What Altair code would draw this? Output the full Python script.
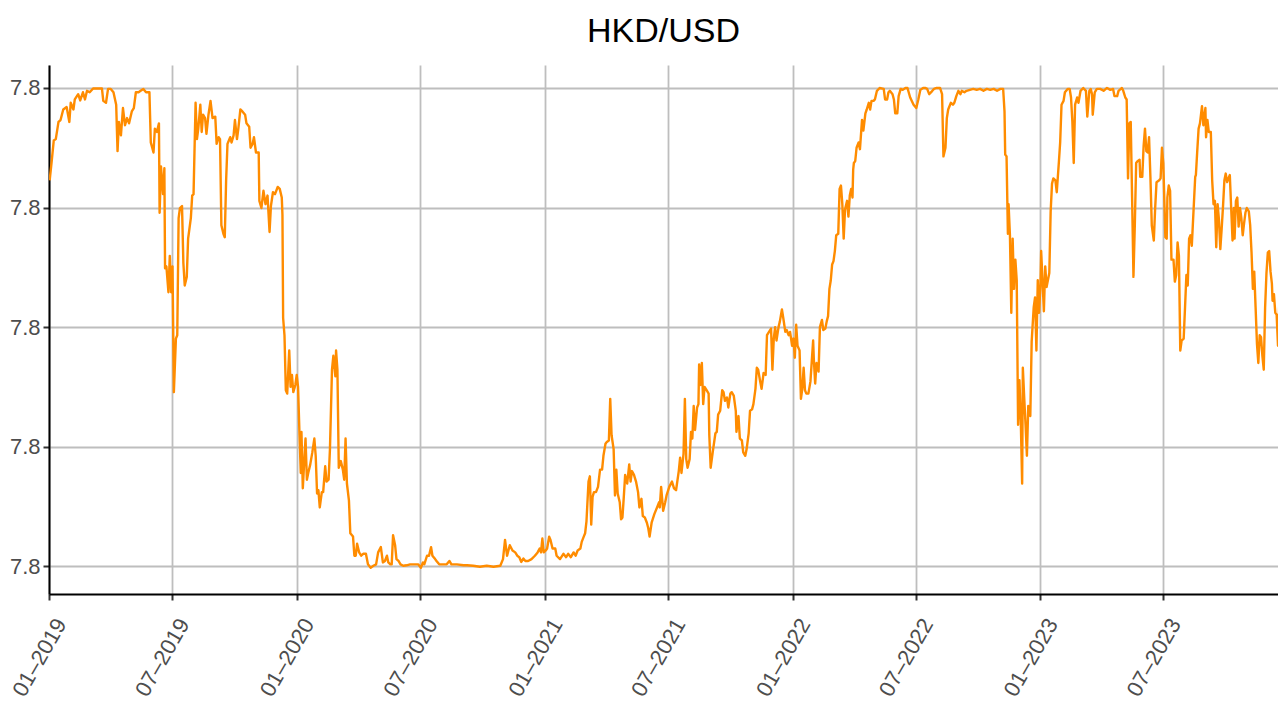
import altair as alt
import pandas as pd

# days since 2019-01-01
days = [
    1, 4, 7, 10, 14, 17, 21, 26, 30, 32, 36, 38, 43, 46, 50, 53, 56, 60, 65, 73, 78, 80, 84, 87, 91, 95, 99,
    101, 103, 106, 109, 112, 115, 118, 122, 125, 128, 132, 135, 139, 143, 148, 150, 154, 156, 159, 162, 163,
    165, 168, 170, 171, 173, 176, 178, 180, 182, 184, 187, 189, 191, 193, 196, 198, 200, 203, 205, 209, 211,
    213, 216, 218, 220, 223, 225, 227, 230, 232, 235, 238, 241, 245, 247, 250, 252, 254, 257, 259, 261, 263,
    267, 269, 272, 274, 277, 279, 282, 285, 289, 291, 295, 297, 300, 302, 305, 309, 310,
    313, 316, 319, 322, 325, 327, 330, 333, 337, 340, 343, 344, 345, 347, 349, 351, 354, 356, 358, 360, 363,
    365, 367, 369, 371, 372, 374, 376, 378, 380, 382, 385, 388, 391, 393, 395, 397, 399, 402, 404, 407, 409,
    412, 414, 417, 419, 422, 423, 425, 427, 430, 433, 435, 437, 439, 442, 444, 448, 450, 452, 454, 457, 460,
    463, 467, 470, 474, 478, 482, 485, 489, 492, 495, 498, 500, 503, 505, 507, 510, 512, 515, 518, 522, 527,
    532, 539, 544, 548, 551, 553, 557, 560, 563, 565, 569, 571, 575, 581, 586, 590, 593, 601, 611,
    616, 625, 635, 645, 655, 665, 669, 672, 675, 677, 679, 683, 687, 690, 693, 696, 699, 702, 706, 711, 716,
    720, 723, 725, 727, 729, 732, 734, 737, 739, 742, 746, 748, 753, 758, 762, 765, 769, 773, 776, 779, 783,
    785, 788, 790, 792, 795, 797, 799, 801, 803, 806, 809, 812, 815, 817, 820, 822, 825, 827, 829, 832, 834,
    836, 838, 841, 843, 845, 847, 849, 852, 855, 857, 859, 862, 865, 868, 870, 873, 875, 878, 881, 883, 885,
    888, 892, 896, 899, 900, 902, 905, 908, 910, 914, 918, 921, 924, 928, 930,
    932, 935, 937, 939, 941, 944, 946, 948, 950, 952, 955, 957, 958, 960, 962, 964, 966, 969, 972, 973, 975,
    978, 982, 984, 986, 989, 992, 994, 996, 999, 1001, 1004, 1006, 1009, 1012, 1013, 1016, 1018, 1021, 1023,
    1026, 1028, 1031, 1033, 1036, 1038, 1041, 1043, 1045, 1048, 1050, 1053, 1056, 1058, 1061, 1064, 1066,
    1068, 1070, 1072, 1075, 1077, 1080, 1082, 1085, 1087, 1090, 1092, 1095, 1097, 1099, 1101, 1103, 1106,
    1108, 1110, 1112, 1114, 1116, 1119, 1122, 1124, 1126, 1127, 1129, 1131, 1134, 1136, 1139, 1141, 1144,
    1146, 1148, 1150, 1152, 1154, 1156, 1158, 1160, 1163, 1165, 1167, 1169, 1171, 1173, 1176, 1178, 1180,
    1182, 1184, 1185, 1186, 1188, 1190, 1193, 1195, 1198, 1200, 1203, 1205, 1208, 1210, 1212, 1215, 1217,
    1220, 1224,
    1230, 1232, 1235, 1237, 1239, 1243, 1245, 1247, 1250, 1252, 1255, 1258, 1262, 1265, 1269, 1274, 1278,
    1281, 1284, 1288, 1291, 1294, 1297, 1301, 1304, 1308, 1313, 1316, 1318, 1321, 1323, 1325, 1329, 1332,
    1334, 1337, 1340, 1343, 1345, 1349, 1352, 1357, 1362, 1367, 1372, 1377, 1382, 1387, 1392, 1397, 1402,
    1406, 1408, 1409, 1411, 1413, 1414, 1416, 1418, 1420, 1422, 1424, 1426, 1428, 1430, 1432, 1434, 1435,
    1437, 1439, 1441, 1443, 1446, 1448, 1451, 1453, 1455, 1457, 1459, 1461, 1462, 1464, 1466, 1468, 1470,
    1474, 1476, 1478, 1480, 1483, 1485, 1488, 1490, 1492, 1495, 1497, 1501, 1504, 1506, 1508, 1510, 1512,
    1515, 1517, 1520, 1524, 1528, 1530, 1533, 1535,
    1537, 1538, 1541, 1544, 1549, 1554, 1559, 1564, 1568, 1570, 1574, 1576, 1581, 1583, 1586, 1588, 1590,
    1592, 1594, 1596, 1598, 1600, 1602, 1604, 1607, 1608, 1611, 1613, 1615, 1617, 1619, 1621, 1623, 1625,
    1628, 1630, 1632, 1636, 1638, 1640, 1642, 1645, 1647, 1648, 1650, 1652, 1654, 1657, 1659, 1661, 1663,
    1665, 1667, 1669, 1672, 1674, 1676, 1678, 1680, 1682, 1684, 1687, 1689, 1690, 1692, 1694, 1696, 1699,
    1701, 1704, 1705, 1707, 1709, 1712, 1714, 1716, 1718, 1720, 1722, 1724, 1726, 1728, 1730, 1732, 1734,
    1736, 1738, 1740, 1742, 1744, 1746, 1747, 1749, 1751, 1753, 1755, 1757, 1759, 1761, 1763, 1765, 1768,
    1770, 1772, 1774, 1776, 1778, 1780, 1782, 1784, 1786, 1788, 1790, 1792, 1794, 1796, 1798, 1800, 1802,
    1803, 1805, 1807, 1809, 1811, 1813, 1815, 1817, 1819, 1821,
]

rates = [
    7.8307, 7.8347, 7.8390, 7.8393, 7.8429, 7.8433, 7.8455, 7.8460, 7.8429, 7.8469, 7.8455, 7.8476, 7.8487,
    7.8474, 7.8491, 7.8476, 7.8494, 7.8491, 7.8499, 7.8499, 7.8499, 7.8473, 7.8469, 7.8498, 7.8498, 7.8491,
    7.8465, 7.8368, 7.8429, 7.8401, 7.8458, 7.8422, 7.8437, 7.8426, 7.8451, 7.8458, 7.8491, 7.8491, 7.8494,
    7.8498, 7.8491, 7.8491, 7.8386, 7.8365, 7.8415, 7.8408, 7.8426, 7.8239, 7.8336, 7.8278, 7.8332, 7.8123,
    7.8127, 7.8073, 7.8149, 7.8073, 7.8127, 7.7864, 7.7976, 7.7983, 7.8228, 7.8249, 7.8253, 7.8134, 7.8087,
    7.8105, 7.8185, 7.8228, 7.8275, 7.8278, 7.8469, 7.8393, 7.8415, 7.8465, 7.8408, 7.8444, 7.8437, 7.8404,
    7.8444, 7.8473, 7.8437, 7.8440, 7.8383, 7.8397, 7.8393, 7.8213, 7.8195, 7.8188, 7.8307, 7.8383, 7.8397,
    7.8386, 7.8401, 7.8433, 7.8393, 7.8415, 7.8455, 7.8451, 7.8444, 7.8426, 7.8419, 7.8375, 7.8383, 7.8397,
    7.8365, 7.8365, 7.8264,
    7.8249, 7.8285, 7.8257, 7.8275, 7.8199, 7.8253, 7.8282, 7.8278, 7.8293, 7.8289, 7.8271, 7.8235, 7.8019,
    7.7983, 7.7868, 7.7861, 7.7951, 7.7875, 7.7900, 7.7864, 7.7879, 7.7900, 7.7875, 7.7781, 7.7695, 7.7781,
    7.7663, 7.7717, 7.7767, 7.7681, 7.7695, 7.7713, 7.7738, 7.7767, 7.7731, 7.7652, 7.7659, 7.7623, 7.7655,
    7.7655, 7.7709, 7.7677, 7.7681, 7.7745, 7.7911, 7.7940, 7.7897, 7.7951, 7.7911, 7.7706, 7.7720, 7.7702,
    7.7681, 7.7767, 7.7673, 7.7637, 7.7569, 7.7562, 7.7522, 7.7522, 7.7547, 7.7529, 7.7522, 7.7526, 7.7526,
    7.7504, 7.7497, 7.7501, 7.7504, 7.7529, 7.7540, 7.7508, 7.7511, 7.7522, 7.7508, 7.7504, 7.7504, 7.7565,
    7.7544, 7.7515, 7.7511, 7.7504, 7.7501, 7.7502, 7.7504, 7.7504, 7.7504, 7.7497, 7.7508, 7.7504, 7.7522,
    7.7522, 7.7540, 7.7522, 7.7515, 7.7511, 7.7504, 7.7504, 7.7504, 7.7511, 7.7504, 7.7504, 7.7502,
    7.7502, 7.7501, 7.7499, 7.7501, 7.7499, 7.7501, 7.7515, 7.7555, 7.7522, 7.7533, 7.7544, 7.7533, 7.7529,
    7.7522, 7.7519, 7.7509, 7.7516, 7.7511, 7.7511, 7.7515, 7.7522, 7.7529, 7.7537, 7.7529, 7.7558, 7.7529,
    7.7533, 7.7537, 7.7562, 7.7555, 7.7537, 7.7537, 7.7522, 7.7515, 7.7526, 7.7519, 7.7526, 7.7519, 7.7529,
    7.7522, 7.7533, 7.7537, 7.7551, 7.7562, 7.7569, 7.7594, 7.7677, 7.7688, 7.7587, 7.7645, 7.7655, 7.7655,
    7.7666, 7.7702, 7.7702, 7.7731, 7.7756, 7.7760, 7.7763, 7.7850, 7.7774, 7.7745, 7.7648, 7.7702, 7.7652,
    7.7634, 7.7598, 7.7602, 7.7645, 7.7691, 7.7673, 7.7713, 7.7677, 7.7699, 7.7691, 7.7677, 7.7655, 7.7623,
    7.7641, 7.7605, 7.7602, 7.7591, 7.7580, 7.7562, 7.7591, 7.7609, 7.7623, 7.7634, 7.7623, 7.7666, 7.7616,
    7.7634, 7.7648, 7.7666, 7.7677, 7.7663, 7.7659, 7.7699, 7.7727,
    7.7695, 7.7735, 7.7850, 7.7724, 7.7706, 7.7724, 7.7781, 7.7767, 7.7835, 7.7785, 7.7832, 7.7839, 7.7922,
    7.7879, 7.7925, 7.7839, 7.7875, 7.7868, 7.7861, 7.7774, 7.7706, 7.7738, 7.7778, 7.7781, 7.7817, 7.7825,
    7.7868, 7.7864, 7.7846, 7.7853, 7.7832, 7.7861, 7.7864, 7.7857, 7.7825, 7.7781, 7.7814, 7.7767, 7.7763,
    7.7738, 7.7731, 7.7745, 7.7778, 7.7825, 7.7828, 7.7839, 7.7871, 7.7915, 7.7911, 7.7886, 7.7871, 7.7904,
    7.7900, 7.7983, 7.7990, 7.7997, 7.7911, 7.7976, 7.8000, 7.7972, 7.8000, 7.8012, 7.8037, 7.8019, 7.7990,
    7.7994, 7.7983, 7.7990, 7.7961, 7.7976, 7.7936, 7.8005, 7.7961, 7.7951, 7.7850, 7.7871, 7.7915, 7.7868,
    7.7861, 7.7861, 7.7886, 7.7929, 7.7972, 7.7933, 7.7882, 7.7925, 7.7907, 7.8000, 7.8015, 7.7994, 7.7997,
    7.8012, 7.8023, 7.8080, 7.8098, 7.8131, 7.8138, 7.8159, 7.8192, 7.8195, 7.8289, 7.8296, 7.8257, 7.8185,
    7.8246, 7.8264, 7.8231, 7.8275, 7.8289, 7.8271, 7.8329, 7.8343, 7.8347, 7.8375, 7.8386, 7.8372, 7.8433,
    7.8411, 7.8447, 7.8455, 7.8469, 7.8455, 7.8473, 7.8473, 7.8476, 7.8494, 7.8500,
    7.8498, 7.8476, 7.8476, 7.8491, 7.8494, 7.8487, 7.8476, 7.8447, 7.8447, 7.8483, 7.8498, 7.8496, 7.8500,
    7.8500, 7.8480, 7.8465, 7.8458, 7.8476, 7.8496, 7.8500, 7.8500, 7.8498, 7.8487, 7.8493, 7.8498, 7.8500,
    7.8500, 7.8487, 7.8357, 7.8375, 7.8437, 7.8455, 7.8469, 7.8465, 7.8469, 7.8483, 7.8494, 7.8487, 7.8494,
    7.8491, 7.8494, 7.8496, 7.8498, 7.8496, 7.8498, 7.8494, 7.8498, 7.8496, 7.8498, 7.8494, 7.8498, 7.8498,
    7.8451, 7.8361, 7.8357, 7.8195, 7.8257, 7.8192, 7.8030, 7.8185, 7.8080, 7.8141, 7.8098, 7.7796, 7.7889,
    7.7803, 7.7673, 7.7915, 7.7853, 7.7796, 7.7731, 7.7835, 7.7814, 7.7969, 7.8041, 7.8062, 7.7951, 7.8098,
    7.8030, 7.8091, 7.8159, 7.8098, 7.8033, 7.8127, 7.8084, 7.8113, 7.8242, 7.8300, 7.8311, 7.8307, 7.8282,
    7.8343, 7.8386, 7.8465, 7.8473, 7.8491, 7.8498, 7.8498, 7.8480, 7.8429, 7.8343, 7.8465, 7.8480, 7.8469,
    7.8494, 7.8500, 7.8494, 7.8440, 7.8494, 7.8498,
    7.8487, 7.8444, 7.8491, 7.8498, 7.8498, 7.8494, 7.8500, 7.8496, 7.8498, 7.8483, 7.8483, 7.8494, 7.8500,
    7.8494, 7.8480, 7.8476, 7.8311, 7.8426, 7.8429, 7.8271, 7.8105, 7.8213, 7.8343, 7.8347, 7.8350, 7.8314,
    7.8314, 7.8379, 7.8415, 7.8368, 7.8365, 7.8397, 7.8314, 7.8213, 7.8181, 7.8249, 7.8303, 7.8307, 7.8311,
    7.8375, 7.8343, 7.8188, 7.8185, 7.8271, 7.8296, 7.8285, 7.8141, 7.8141, 7.8095, 7.8109, 7.8177, 7.8149,
    7.7951, 7.7972, 7.7976, 7.8041, 7.8109, 7.8087, 7.8185, 7.8192, 7.8170, 7.8257, 7.8314, 7.8318, 7.8368,
    7.8415, 7.8426, 7.8462, 7.8422, 7.8458, 7.8397, 7.8433, 7.8408, 7.8408, 7.8307, 7.8257, 7.8264, 7.8167,
    7.8257, 7.8224, 7.8163, 7.8206, 7.8253, 7.8307, 7.8321, 7.8303, 7.8311, 7.8318, 7.8249, 7.8181, 7.8249,
    7.8185, 7.8264, 7.8271, 7.8210, 7.8249, 7.8228, 7.8192, 7.8217, 7.8239, 7.8249, 7.8242, 7.8213, 7.8156,
    7.8080, 7.8116, 7.8041, 7.7965, 7.7925, 7.7983, 7.7979, 7.7940, 7.7911, 7.8041, 7.8113, 7.8156, 7.8159,
    7.8116, 7.8091, 7.8055, 7.8069, 7.8030, 7.8026, 7.7961, 7.8055, 7.8113, 7.8156, 7.8095, 7.8134,
]

y_ticks = [7.75, 7.775, 7.80, 7.825, 7.85]
x_tick_months = [(2019, 1), (2019, 7), (2020, 1), (2020, 7), (2021, 1), (2021, 7),
                 (2022, 1), (2022, 7), (2023, 1), (2023, 7)]

n = min(len(days), len(rates))
start = pd.Timestamp("2019-01-01")
df = pd.DataFrame({
    "date": [(start + pd.Timedelta(days=int(d))).strftime("%Y-%m-%dT00:00:00") for d in days[:n]],
    "rate": rates[:n],
})

FONT = "Liberation Sans"

chart = (
    alt.Chart(df)
    .mark_line(color="#FF8C00", strokeWidth=2.4, strokeJoin="round", clip=True)
    .encode(
        x=alt.X(
            "date:T",
            scale=alt.Scale(
                domain=[alt.DateTime(year=2019, month=1, date=1),
                        alt.DateTime(year=2023, month=12, date=17)],
                nice=False,
            ),
            axis=alt.Axis(
                title=None,
                values=[alt.DateTime(year=y, month=m, date=1) for y, m in x_tick_months],
                labelExpr="timeFormat(datum.value, '%m\u2013%Y')",
                labelAngle=-60,
                labelAlign="right",
                labelBaseline="top",
                labelPadding=15,
                labelOffset=3,
                labelFlush=False,
                labelOverlap=False,
            ),
        ),
        y=alt.Y(
            "rate:Q",
            scale=alt.Scale(domain=[7.7442, 7.8548], nice=False, zero=False),
            axis=alt.Axis(title=None, values=y_ticks, format=".1f", labelPadding=3),
        ),
    )
    .properties(
        width=1229,
        height=529,
        title=alt.TitleParams(
            "HKD/USD", fontSize=34, font=FONT, fontWeight="normal", color="black",
            anchor="middle", offset=16,
        ),
        autosize=alt.AutoSizeParams(type="none"),
        padding={"left": 41, "top": 57, "right": 0, "bottom": 106},
    )
    .configure_view(stroke=None)
    .configure_axis(
        domainColor="black",
        domainWidth=2,
        tickColor="#333333",
        tickWidth=2,
        tickSize=6,
        gridColor="#bebebe",
        gridWidth=1.8,
        labelColor="#4d4d4d",
        labelFont=FONT,
        labelFontSize=22,
    )
)

chart.save("out.html", embed_options={"renderer": "svg", "actions": False})
